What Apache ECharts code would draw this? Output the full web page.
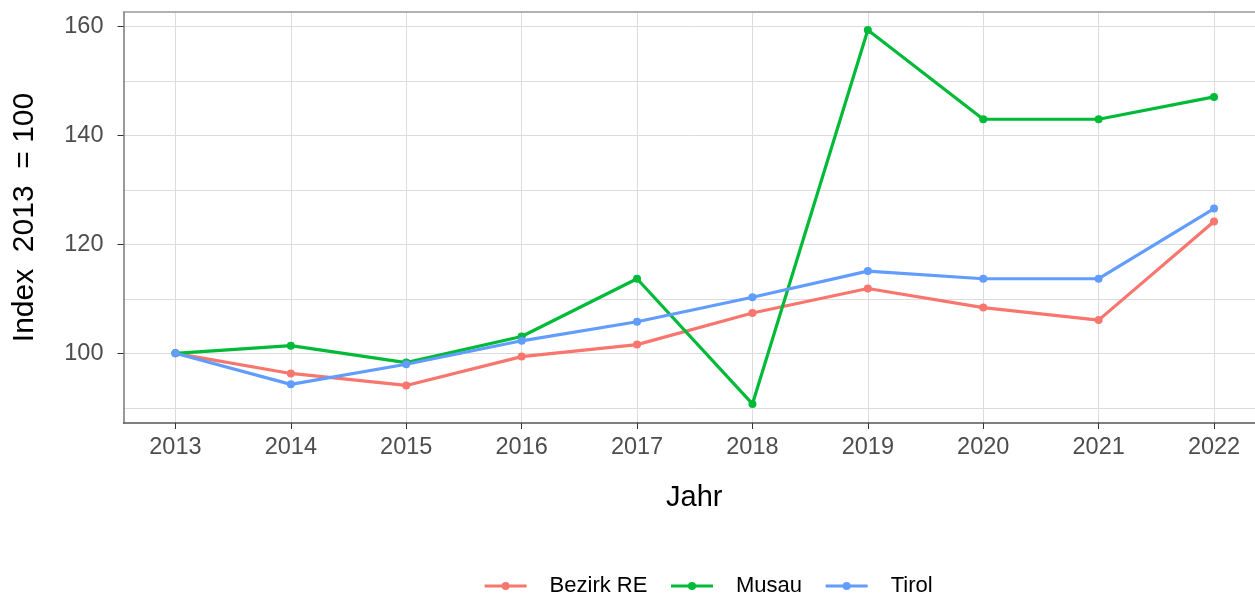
<!DOCTYPE html>
<html>
<head>
<meta charset="utf-8">
<script src="https://cdn.jsdelivr.net/npm/echarts@6/dist/echarts.min.js"></script>
<style>
  html, body { margin: 0; padding: 0; background: #fff; }
  #main { width: 1255px; height: 597px; }
</style>
</head>
<body>
<div id="main"></div>
<script>
var years = [2013, 2014, 2015, 2016, 2017, 2018, 2019, 2020, 2021, 2022];
var bezirkRE = [100, 96.3, 94.1, 99.4, 101.6, 107.4, 111.9, 108.4, 106.1, 124.2];
var musau = [100, 101.4, 98.3, 103.1, 113.7, 90.7, 159.4, 143.0, 143.0, 147.1];
var tirol = [100, 94.3, 98.0, 102.3, 105.8, 110.3, 115.1, 113.7, 113.7, 126.6];
var yLabels = [100, 120, 140, 160];
var yGrid = [90, 100, 110, 120, 130, 140, 150, 160];

var font = '"Liberation Sans", Arial, sans-serif';

function pairs(vals) {
	return years.map(function (y, i) { return [y, vals[i]]; });
}

function line(name, color, vals) {
	return {
		name: name,
		type: 'line',
		data: pairs(vals),
		symbol: 'circle',
		symbolSize: 8,
		showSymbol: true,
		lineStyle: { width: 3.2, color: color },
		itemStyle: { color: color },
		emphasis: { disabled: true },
		z: 3
	};
}

var yMin = 87.2, yMax = 162.7;
// panel runs past the right edge of the picture, so stop the x range there
var xMin = 2012.55, xMax = 2022.355;

var option = {
	animation: false,
	backgroundColor: '#fff',
	grid: {
		left: 123.5,
		right: 0,
		top: 12,
		bottom: 174,
		show: false
	},
	legend: {
		left: 478,
		top: 570,
		itemWidth: 42,
		itemHeight: 10,
		itemGap: 22,
		lineStyle: { width: 3.2 },
		textStyle: { fontFamily: font, fontSize: 22, color: '#000', padding: [0, 0, 0, 18] },
		data: ['Bezirk RE', 'Musau', 'Tirol']
	},
	xAxis: [{
		type: 'value',
		min: xMin,
		max: xMax,
		name: 'Jahr',
		nameLocation: 'middle',
		nameGap: 60,
		nameTextStyle: { fontFamily: font, fontSize: 29, color: '#000', padding: [0, 0, 0, 10] },
		axisLine: { show: true, lineStyle: { color: '#555', width: 1.5 } },
		axisTick: { show: true, length: 6, customValues: years, lineStyle: { color: '#333' } },
		axisLabel: {
			customValues: years,
			margin: 13,
			fontFamily: font, fontSize: 23.5, color: '#4d4d4d',
			formatter: function (v) { return String(v); }
		},
		splitLine: { show: true, lineStyle: { color: '#dcdcdc', width: 1 } }
	}, {
		type: 'value',
		position: 'top',
		min: xMin,
		max: xMax,
		axisLine: { show: true, onZero: false, lineStyle: { color: '#999', width: 1.5 } },
		axisTick: { show: false },
		axisLabel: { show: false },
		splitLine: { show: false }
	}],
	yAxis: [{
		type: 'value',
		min: yMin,
		max: yMax,
		name: 'Index  2013  = 100',
		nameLocation: 'middle',
		nameGap: 84,
		nameTextStyle: { fontFamily: font, fontSize: 30, color: '#000' },
		axisLine: { show: true, lineStyle: { color: '#777', width: 1.5 } },
		axisTick: { show: false, customValues: yGrid },
		axisLabel: { show: false, customValues: yLabels },
		splitLine: { show: true, lineStyle: { color: '#dcdcdc', width: 1 } }
	}, {
		type: 'value',
		min: yMin,
		max: yMax,
		position: 'left',
		axisLine: { show: false },
		axisTick: { show: true, length: 6, customValues: yLabels, lineStyle: { color: '#333' } },
		axisLabel: {
			customValues: yLabels,
			margin: 20,
			fontFamily: font, fontSize: 23.5, color: '#4d4d4d'
		},
		splitLine: { show: false }
	}],
	series: [
		line('Bezirk RE', '#F8766D', bezirkRE),
		line('Musau', '#00BA38', musau),
		line('Tirol', '#619CFF', tirol)
	]
};

var myChart = echarts.init(document.getElementById('main'));
myChart.setOption(option);
</script>
</body>
</html>
